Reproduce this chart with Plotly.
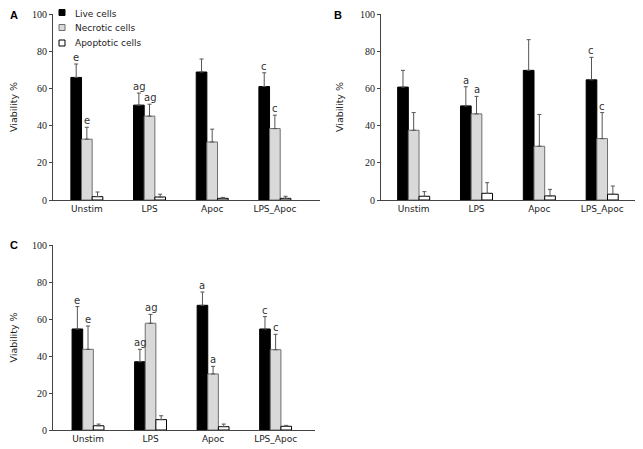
import plotly.graph_objects as go

categories = ["Unstim", "LPS", "Apoc", "LPS_Apoc"]
series_names = ["Live cells", "Necrotic cells", "Apoptotic cells"]

# Panel A
a_live = [65.9, 51.0, 68.8, 61.0]
a_live_err = [7.2, 6.5, 7.0, 7.4]
a_necr = [32.7, 45.1, 31.2, 38.4]
a_necr_err = [6.4, 6.4, 6.9, 7.2]
a_apop = [1.8, 1.6, 0.9, 0.9]
a_apop_err = [2.5, 1.5, 0.5, 1.1]
a_labels_live = ["e", "ag", "", "c"]
a_labels_necr = ["e", "ag", "", "c"]

# Panel B
b_live = [60.7, 50.6, 69.7, 64.6]
b_live_err = [9.0, 10.3, 16.5, 12.1]
b_necr = [37.5, 46.3, 28.9, 33.0]
b_necr_err = [9.5, 9.4, 17.1, 14.0]
b_apop = [2.0, 3.6, 2.2, 3.1]
b_apop_err = [2.5, 5.7, 3.5, 4.4]
b_labels_live = ["", "a", "", "c"]
b_labels_necr = ["", "a", "", "c"]

# Panel C
c_live = [54.6, 36.9, 67.4, 54.6]
c_live_err = [12.1, 6.7, 7.2, 6.7]
c_necr = [43.6, 57.7, 30.3, 43.4]
c_necr_err = [12.6, 4.8, 4.1, 8.3]
c_apop = [2.3, 5.6, 1.8, 2.0]
c_apop_err = [0.9, 2.1, 1.4, 0.5]
c_labels_live = ["e", "ag", "a", "c"]
c_labels_necr = ["e", "ag", "a", "c"]

y_ticks = [0, 20, 40, 60, 80, 100]

FONT = "DejaVu Sans"
NUMFONT = "Liberation Serif"
fills = ["#000000", "#d9d9d9", "#ffffff"]
lines = ["#000000", "#6e6e6e", "#000000"]

# page is 643x449, the figure sits inside the default 8px body margin
OFF = 8
FW, FH = 643 - OFF, 449 - OFF


def px(x):
    return (x - OFF) / FW


def py(y):
    return (FH - (y - OFF)) / FH


panels = [
    dict(live=a_live, le=a_live_err, necr=a_necr, ne=a_necr_err, apop=a_apop, ae=a_apop_err,
         ll=a_labels_live, nl=a_labels_necr, letter="A", lpos=(13.5, 15),
         dom_x=(53, 320), dom_y=(14, 200), xr=[-0.54, 3.72]),
    dict(live=b_live, le=b_live_err, necr=b_necr, ne=b_necr_err, apop=b_apop, ae=b_apop_err,
         ll=b_labels_live, nl=b_labels_necr, letter="B", lpos=(338, 15),
         dom_x=(381, 638), dom_y=(14, 200), xr=[-0.52, 3.57]),
    dict(live=c_live, le=c_live_err, necr=c_necr, ne=c_necr_err, apop=c_apop, ae=c_apop_err,
         ll=c_labels_live, nl=c_labels_necr, letter="C", lpos=(14, 245),
         dom_x=(53, 315), dom_y=(245, 430), xr=[-0.56, 3.63]),
]

fig = go.Figure()
annotations = []
shapes = []
layout = {}

for i, p in enumerate(panels):
    n = i + 1
    xa = "x" if n == 1 else f"x{n}"
    ya = "y" if n == 1 else f"y{n}"
    vals = [p["live"], p["necr"], p["apop"]]
    errs = [p["le"], p["ne"], p["ae"]]
    for s in range(3):
        fig.add_trace(go.Bar(
            x=categories, y=vals[s], name=series_names[s],
            xaxis=xa, yaxis=ya,
            marker=dict(color=fills[s], line=dict(color=lines[s], width=1)),
            error_y=dict(type="data", symmetric=False, array=errs[s],
                         arrayminus=[0] * 4, color="#555555", thickness=1, width=2),
            showlegend=False,
        ))
    for s, labs in ((0, p["ll"]), (1, p["nl"])):
        for k, cat in enumerate(categories):
            if labs[k]:
                annotations.append(dict(
                    x=cat, y=vals[s][k] + errs[s][k], xref=xa, yref=ya,
                    text=labs[k], showarrow=False, yanchor="bottom",
                    xshift=(-10.7 if s == 0 else 0), yshift=-1,
                    font=dict(family=FONT, size=10, color="#333333")))
    x0, x1 = p["dom_x"]
    yt, yb = p["dom_y"]
    axkey = "xaxis" if n == 1 else f"xaxis{n}"
    aykey = "yaxis" if n == 1 else f"yaxis{n}"
    layout[axkey] = dict(domain=[px(x0), px(x1)], anchor=ya, range=p["xr"],
                         showline=True, linecolor="#444444", linewidth=1,
                         ticks="", showgrid=False, zeroline=False, automargin=False,
                         tickfont=dict(family=FONT, size=9, color="#222222"))
    layout[aykey] = dict(domain=[py(yb), py(yt)], anchor=xa,
                         range=[0, 100], tickvals=y_ticks, automargin=False,
                         showline=True, linecolor="#444444", linewidth=1,
                         ticks="outside", ticklen=3, tickcolor="#444444",
                         showgrid=False, zeroline=False,
                         tickfont=dict(family=NUMFONT, size=10, color="#222222"),
                         title=dict(text="Viability %", standoff=14,
                                    font=dict(family=FONT, size=9.5, color="#222222")))
    lx, lyy = p["lpos"]
    annotations.append(dict(
        x=px(lx), y=py(lyy), xref="paper", yref="paper",
        text=f"<b>{p['letter']}</b>", showarrow=False, xanchor="center", yanchor="middle",
        font=dict(family="Liberation Sans", size=11, color="#000000")))

# legend drawn in panel A's top-left corner
leg_y = [12.5, 27.5, 43]
for s in range(3):
    yc = leg_y[s]
    shapes.append(dict(type="rect", xref="paper", yref="paper",
                       x0=px(59), x1=px(65), y0=py(yc + 3), y1=py(yc - 3),
                       fillcolor=fills[s], line=dict(color=lines[s] if s else "#000000", width=1)))
    annotations.append(dict(x=px(73), y=py(yc + 1 if s == 0 else yc), xref="paper", yref="paper",
                            text=series_names[s], showarrow=False,
                            xanchor="left", yanchor="middle",
                            font=dict(family=FONT, size=9, color="#222222")))

fig.update_layout(
    width=FW, height=FH,
    margin=dict(l=0, r=0, t=0, b=0),
    paper_bgcolor="white", plot_bgcolor="white",
    barmode="group", bargap=0.49, bargroupgap=0,
    annotations=annotations, shapes=shapes,
    showlegend=False,
    **layout,
)

fig.write_html("out.html")
